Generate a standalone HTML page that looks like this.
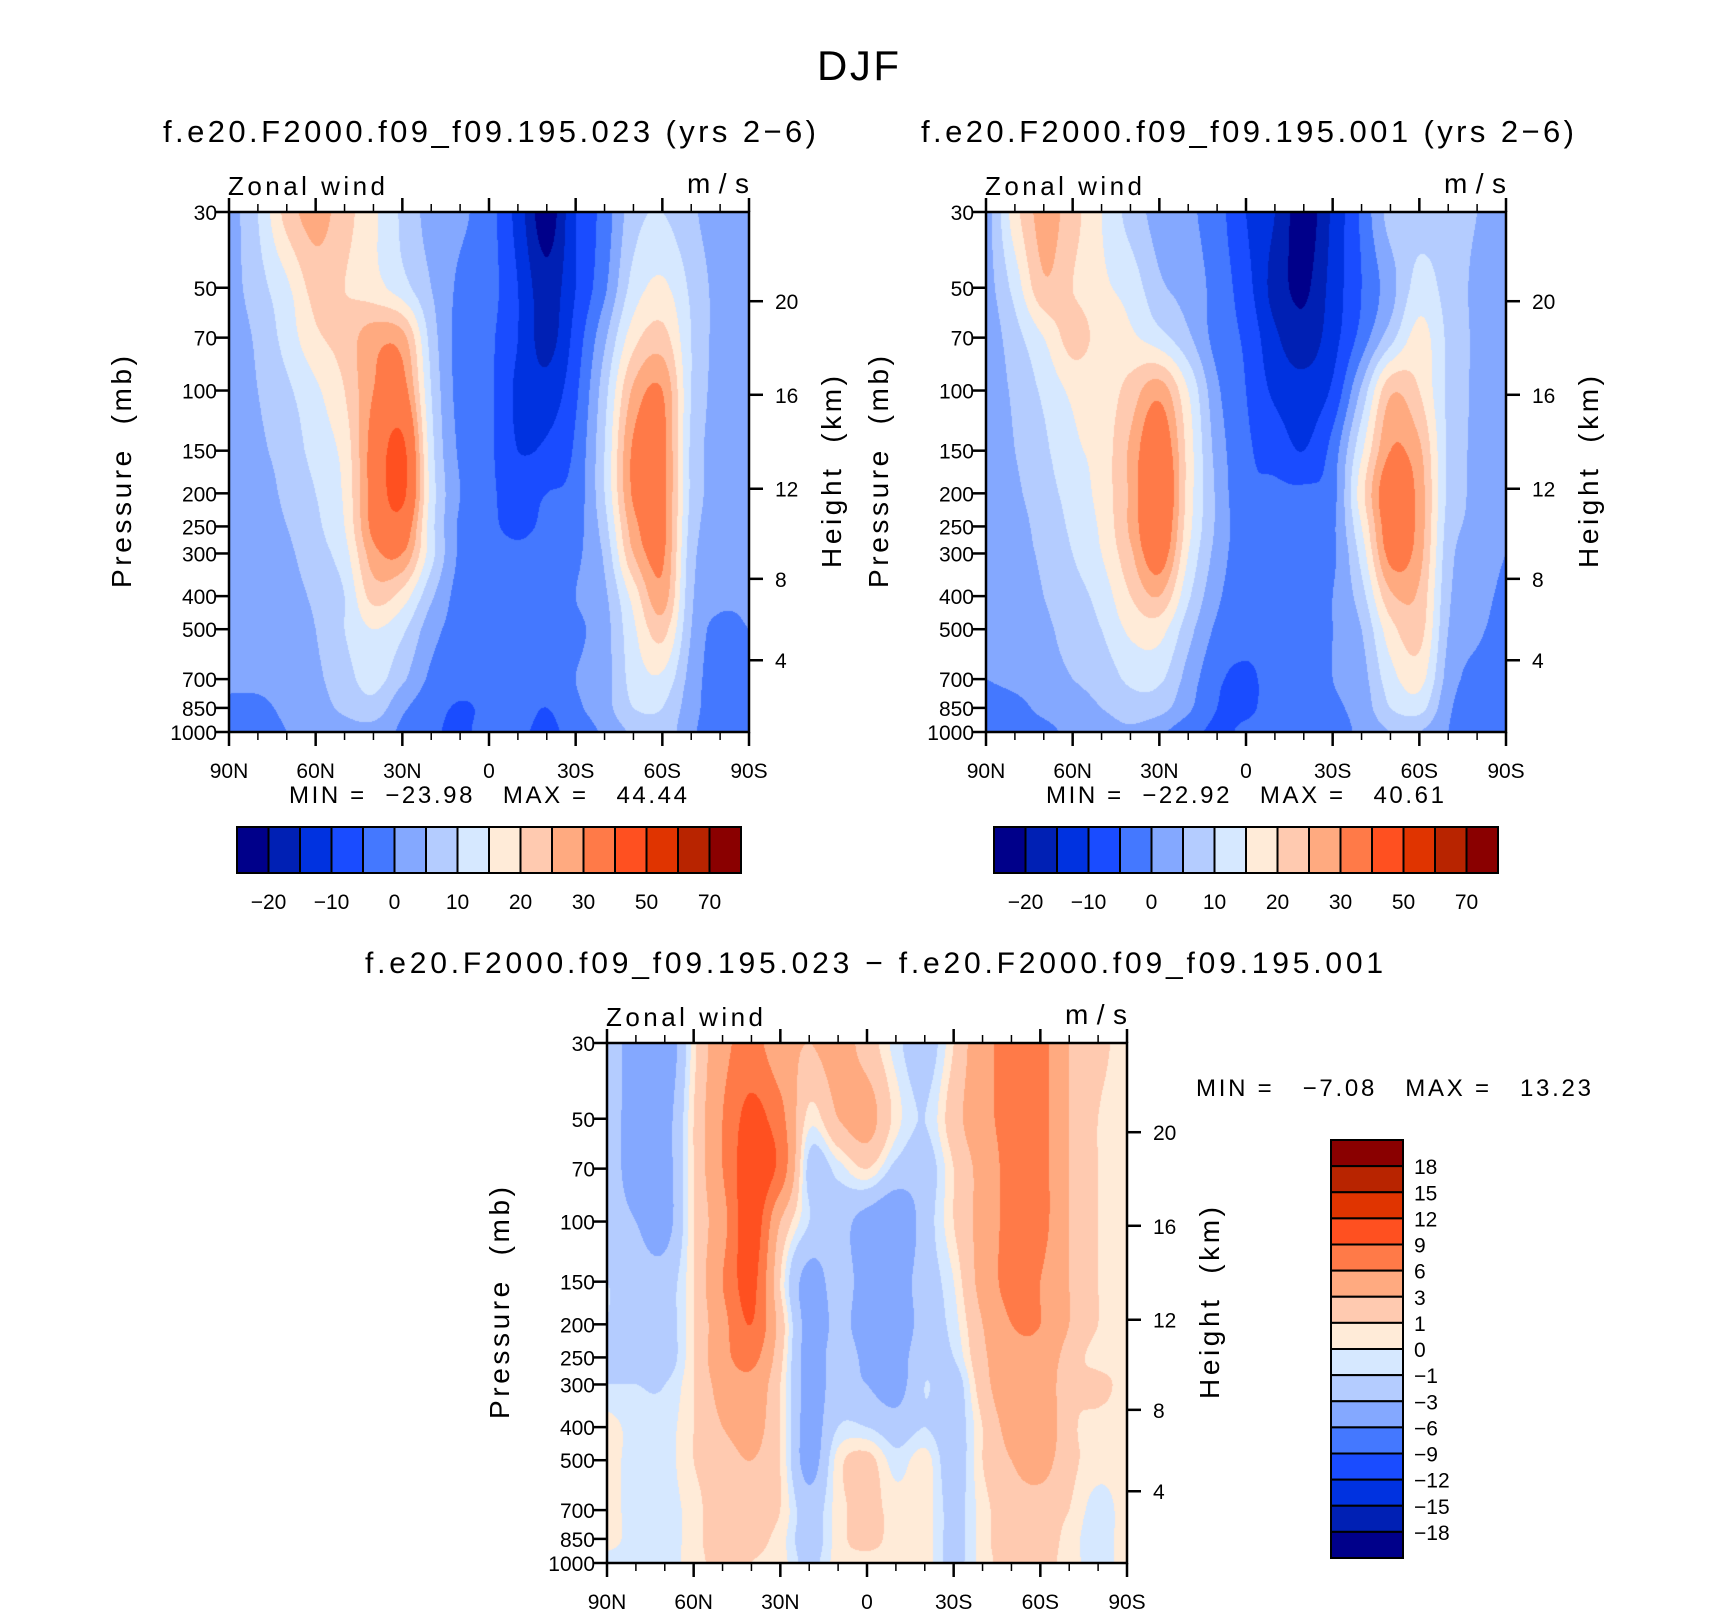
<!DOCTYPE html>
<html><head><meta charset="utf-8"><style>
html,body{margin:0;padding:0;background:#fff;width:1710px;height:1611px;overflow:hidden}
#wrap{position:relative;width:1710px;height:1611px}
canvas{position:absolute}
svg{position:absolute;left:0;top:0}
text{font-family:"Liberation Sans",sans-serif;fill:#000;white-space:pre}
</style></head><body>
<div id="wrap">
<canvas id="cA" width="520" height="520" style="left:229px;top:212px"></canvas>
<canvas id="cB" width="520" height="520" style="left:986px;top:212px"></canvas>
<canvas id="cD" width="520" height="520" style="left:607px;top:1043px"></canvas>
<svg id="ov" width="1710" height="1611" xmlns="http://www.w3.org/2000/svg"></svg>
</div>
<script>
const PLEV=[30,50,70,100,150,200,250,300,400,500,700,850,1000];
const LATS=['90N','80N','70N','60N','50N','40N','30N','20N','10N','0','10S','20S','30S','40S','50S','60S','70S','80S','90S'];
const xTickLabels=['90N','60N','30N','0','30S','60S','90S'];
const pTickLabels=[30,50,70,100,150,200,250,300,400,500,700,850,1000];
const hTicks=[4,8,12,16,20];
const hPress=[616.4,356.0,193.9,102.9,54.75];
const windA=[
[3,10,22,27,22,16,9,3,1,-3,-12,-23,-10,-3,8,10,6,2,2],
[3,8,14,22,20,17,12,5,-1,-3,-10,-18,-10,-1,12,16,9,3,1],
[2,6,12,19,22,28,27,8,-2,-4,-10,-17,-8,4,18,22,10,3,1],
[2,5,9,14,20,30,33,10,-2,-4,-11,-13,-6,8,26,30,10,3,1],
[1,4,7,12,17,33,42,12,-1,-4,-10,-9,-4,10,31,32,9,3,1],
[1,3,6,10,16,33,42,13,0,-4,-7,-5,-3,10,31,32,9,3,1],
[1,3,5,9,15,32,36,12,-1,-4,-6,-4,-2,8,28,32,8,3,1],
[1,2,4,8,13,28,30,12,-1,-3,-4,-3,-1,6,25,31,7,3,1],
[1,2,3,6,10,22,18,6,-2,-3,-3,-3,0,4,17,28,6,2,1],
[1,1,2,5,10,15,11,2,-2,-3,-3,-3,-1,3,14,22,5,-2,0],
[1,1,2,4,8,12,6,-1,-3,-3,-3,-2,0,3,12,14,3,-3,-2],
[-1,-1,1,3,6,8,1,-3,-5.5,-4,-3,-5,-1,3,10,10,2,-3,-3],
[-1,-2,0,1,3,3,-1,-4,-6,-3,-4,-6,-3,1,6,8,1,-3,-3]];
const windB=[
[3,18,27,22,15,8,3,1,-3,-10,-15,-23,-14,-4,7,8,7,5,3],
[3,12,24,20,16,13,6,3,-2,-8,-17,-21,-13,-5,3,12,8,4,3],
[2,8,15,22,18,16,12,6,-2,-6,-14,-18,-12,-3,8,17,9,4,2],
[2,6,11,16,17,22,28,15,1,-5,-11,-13,-9,6,24,20,9,4,2],
[1,5,9,14,17,26,36,18,3,-4,-7,-10,-3,14,30,26,9,4,2],
[1,4,8,12,17,26,39,18,4,-4,-4,-4,-2,18,35,28,9,4,2],
[1,3,7,11,16,26,37,17,4,-3,-3,-3,-1,15,34,28,8,4,1],
[1,3,6,10,15,24,34,15,3,-3,-3,-2,-1,12,32,27,7,3,0],
[1,2,5,8,12,20,25,11,1,-3,-3,-2,0,8,24,24,6,2,-1],
[1,2,4,7,10,16,17,7,-1,-3,-3,-3,0,5,18,22,5,1,-2],
[0,1,3,5,7,11,11,3,-4,-6,-3,-3,0,3,13,17,3,-2,-3],
[-1,-1,1,3,5,8,7,1,-5,-6,-3,-4,-1,2,10,12,1,-3,-3],
[-1,-1,-1,1,2,4,1,-3,-6,-4,-3,-5,-2,1,5,5,0,-3,-3]];
const diffAB=[
[-2,-4,-5,0.5,5,7,4,3,4,2,-0.5,-2,1,5,7,7,3,1.5,0.5],
[-2,-4,-4,1,6,10,7,0.5,3,4,0.5,-1,2,5,7,7,3,1,0.5],
[-2,-4,-4,1,6,11,8,-1.5,-0.5,1,-1.5,-2,1,4,7,7,3,1,0.5],
[-2,-3,-4,1,5,11,3,-1,-2,-4,-5,-2,1,4,7,7,3,1,0.5],
[-1,-2,-2,1,6,10,1,-4,-2,-4,-4,-2,0,4,7,6,3,1,0.5],
[-1,-2,-2,1,5,9,2,-4,-2.5,-4,-4.5,-2,-0.5,3,6,6,3,1,0.5],
[-1,-1.5,-2,1,5,7,1.5,-4,-2,-3.5,-4,-1.5,-1,2.5,5,5,2,0.5,0.5],
[-1,-1,-1,1,4,5,1,-4,-2,-3,-4,-1,-2,2,5,5,1.5,1.5,0.5],
[0.5,-0.5,-0.5,1,3,4,1,-4,-1,-1,-2,-1,-2,1,4,5,1.5,0.5,0.5],
[0.5,-0.5,-0.5,1,2,3,1,-4,0.5,1.5,-0.5,0.5,-2,1,3,4,1.5,0.5,0.5],
[0.5,-0.5,-0.5,0.5,2,2,1,-2,0.5,1.5,0.5,0.5,-1.5,0.5,2,2,1,-0.5,0.5],
[0.5,-0.5,-0.5,0.5,2,1.5,0.5,-2,0.5,1.5,0.5,0.5,-1.5,0.5,2,2,0.5,-0.5,0.5],
[-0.5,-0.5,-0.5,0.5,1.5,1,0.5,-1.5,0.5,0.5,0.5,0.5,-1.5,0.5,1.5,1.5,0.5,-0.5,0.5]];
const levelsAB=[-20,-15,-10,-5,0,5,10,15,20,25,30,40,50,60,70];
const levelsDiff=[-18,-15,-12,-9,-6,-3,-1,0,1,3,6,9,12,15,18];
const cbLabelsAB=['−20','−10','0','10','20','30','50','70'];
const COLORS=['#00008a','#0020b4','#0032e0','#1a4cff','#4478ff','#84a8ff','#b4ccff','#d6e8ff','#ffebd8','#ffcab0','#ffaa80','#ff7a48','#ff5020','#e03400','#b82400','#8a0000'];

const W=520,H=520,LP0=Math.log(30),LPR=Math.log(1000/30);
function yOfP(p){return Math.log(p/30)/LPR*H;}
function xOfLat(j){return j/(LATS.length-1)*W;}
function hexRGB(h){return [parseInt(h.substr(1,2),16),parseInt(h.substr(3,2),16),parseInt(h.substr(5,2),16)];}
const RGB=COLORS.map(hexRGB);
function cr(p0,p1,p2,p3,t){return 0.5*((2*p1)+(-p0+p2)*t+(2*p0-5*p1+4*p2-p3)*t*t+(-p0+3*p1-3*p2+p3)*t*t*t);}
function sample(d,fi,fj){
  const nr=d.length,nc=d[0].length;
  let i=Math.min(Math.floor(fi),nr-2),j=Math.min(Math.floor(fj),nc-2);
  const ti=fi-i,tj=fj-j,rows=[];
  for(let a=-1;a<=2;a++){
    const r=d[Math.max(0,Math.min(nr-1,i+a))];
    const v=[];for(let b=-1;b<=2;b++)v.push(r[Math.max(0,Math.min(nc-1,j+b))]);
    rows.push(cr(v[0],v[1],v[2],v[3],tj));
  }
  return cr(rows[0],rows[1],rows[2],rows[3],ti);
}
function render(id,data,levels){
  const cv=document.getElementById(id),ctx=cv.getContext('2d'),img=ctx.createImageData(W,H);
  const lp=PLEV.map(Math.log);
  for(let y=0;y<H;y++){
    const l=LP0+(y+0.5)/H*LPR;let r=0;
    while(r<PLEV.length-2&&l>lp[r+1])r++;
    const fi=r+(l-lp[r])/(lp[r+1]-lp[r]);
    for(let x=0;x<W;x++){
      const fj=(x+0.5)/W*(LATS.length-1);
      const v=sample(data,fi,fj);let k=0;while(k<levels.length&&v>=levels[k])k++;
      const c=RGB[k],o=(y*W+x)*4;img.data[o]=c[0];img.data[o+1]=c[1];img.data[o+2]=c[2];img.data[o+3]=255;
    }
  }
  ctx.putImageData(img,0,0);
}
render('cA',windA,levelsAB);
render('cB',windB,levelsAB);
render('cD',diffAB,levelsDiff);

const NS='http://www.w3.org/2000/svg',ov=document.getElementById('ov');
function el(tag,attrs,parent){const e=document.createElementNS(NS,tag);for(const k in attrs)e.setAttribute(k,attrs[k]);(parent||ov).appendChild(e);return e;}
function txt(s,attrs,parent){const e=el('text',attrs,parent);e.textContent=s;return e;}

function axes(ox,oy,tag){
  const g=el('g',{transform:'translate('+ox+','+oy+')'});
  
  
  const fr=el('rect',{x:0,y:0,width:W,height:H,fill:'none',stroke:'#000','stroke-width':2.5},g);
  
  
  for(let d=0;d<=18;d++){
    const x=xOfLat(d),maj=d%3===0,len=maj?14:8;
    el('line',{x1:x,y1:0,x2:x,y2:-len,stroke:'#000','stroke-width':maj?2.5:1.5},g);
    el('line',{x1:x,y1:H,x2:x,y2:H+len,stroke:'#000','stroke-width':maj?2.5:1.5},g);
  }
  xTickLabels.forEach((s,i)=>{
    const t=txt(s,{x:xOfLat(i*3),y:H+46,'text-anchor':'middle','font-size':21},g);
    
    
  });
  pTickLabels.forEach(p=>{
    const y=yOfP(p);
    el('line',{x1:0,y1:y,x2:-14,y2:y,stroke:'#000','stroke-width':2.5},g);
    const t=txt(String(p),{x:-12,y:y+8,'text-anchor':'end','font-size':21},g);
    
    
  });
  hTicks.forEach((h,i)=>{
    const y=yOfP(hPress[i]);
    el('line',{x1:W,y1:y,x2:W+14,y2:y,stroke:'#000','stroke-width':2.5},g);
    const t=txt(String(h),{x:W+26,y:y+8,'font-size':21},g);
    
    
  });
  const zw=txt('Zonal wind',{x:-1,y:-17,'font-size':26,textLength:157},g);
  
  
  const ms=txt('m/s',{x:W,y:-19,'text-anchor':'end','font-size':28,textLength:62},g);
  
  
  const pt=txt('Pressure  (mb)',{x:0,y:0,'text-anchor':'middle','font-size':28,textLength:232,transform:'translate(-98,'+(H/2)+') rotate(-90)'},g);
  
  
  const ht=txt('Height  (km)',{x:0,y:0,'text-anchor':'middle','font-size':28,textLength:192,transform:'translate('+(W+92)+','+(H/2)+') rotate(-90)'},g);
  
  
  return g;
}
axes(229,212,'023');
axes(986,212,'001');
axes(607,1043,'difference');

function hbar(ox,oy,tag){
  const g=el('g',{transform:'translate('+ox+','+oy+')'});
  
  
  const bw=504/16;
  COLORS.forEach((c,i)=>{
    const r=el('rect',{x:i*bw,y:0,width:bw,height:46,fill:c,stroke:'#000','stroke-width':2},g);
    
    
  });
  cbLabelsAB.forEach((s,i)=>{
    const t=txt(s,{x:(2*i+1)*bw,y:82,'text-anchor':'middle','font-size':21},g);
    
    
  });
}
hbar(237,827,'023');
hbar(994,827,'001');
(function(){
  const g=el('g',{transform:'translate(1331,1140)'});
  
  
  const bh=418/16;
  for(let i=0;i<16;i++){
    const r=el('rect',{x:0,y:i*bh,width:72,height:bh,fill:COLORS[15-i],stroke:'#000','stroke-width':2},g);
    
    
  }
  for(let k=1;k<=15;k++){
    const v=levelsDiff[15-k];
    const t=txt((v<0?'−':'')+Math.abs(v),{x:83,y:k*bh+8,'font-size':21},g);
    
    
  }
})();
</script>
<svg width="1710" height="1611" style="position:absolute;left:0;top:0">
<text x="858" y="80" text-anchor="middle" font-size="42" textLength="82">DJF</text>
<text x="163" y="142" font-size="31" textLength="653">f.e20.F2000.f09_f09.195.023 (yrs 2−6)</text>
<text x="921" y="142" font-size="31" textLength="653">f.e20.F2000.f09_f09.195.001 (yrs 2−6)</text>
<text x="289" y="803" font-size="24" textLength="398">MIN =  −23.98   MAX =   44.44</text>
<text x="1046" y="803" font-size="24" textLength="398">MIN =  −22.92   MAX =   40.61</text>
<text x="365" y="973" font-size="30" textLength="1018">f.e20.F2000.f09_f09.195.023 − f.e20.F2000.f09_f09.195.001</text>
<text x="1196" y="1096" font-size="24" textLength="395">MIN =   −7.08   MAX =   13.23</text>
</svg>
</body></html>
